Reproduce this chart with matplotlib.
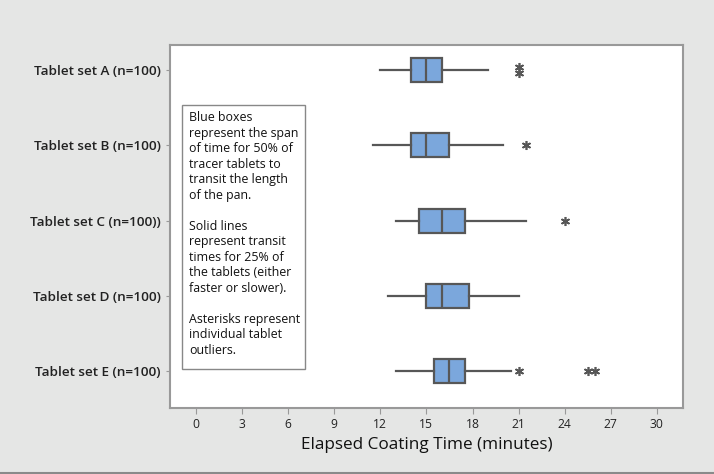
import matplotlib
matplotlib.use("Agg")
import matplotlib.pyplot as plt
from matplotlib.lines import Line2D
from matplotlib.patches import Rectangle

plt.rcParams['font.family'] = ['Open Sans', 'DejaVu Sans']

labels = ["Tablet set A (n=100)", "Tablet set B (n=100)", "Tablet set C (n=100))",
          "Tablet set D (n=100)", "Tablet set E (n=100)"]
whisker_low = [12.0, 11.5, 13.0, 12.5, 13.0]
q1 = [14.0, 14.0, 14.5, 15.0, 15.5]
median = [15.0, 15.0, 16.0, 16.0, 16.5]
q3 = [16.0, 16.5, 17.5, 17.8, 17.5]
whisker_high = [19.0, 20.0, 21.5, 21.0, 20.5]
outliers = [[21.0, 21.0], [21.5], [24.0], [], [21.0, 25.5, 26.0]]
xticks = [0, 3, 6, 9, 12, 15, 18, 21, 24, 27, 30]

note = ("Blue boxes\nrepresent the span\nof time for 50% of\ntracer tablets to\n"
        "transit the length\nof the pan.\n\nSolid lines\nrepresent transit\n"
        "times for 25% of\nthe tablets (either\nfaster or slower).\n\n"
        "Asterisks represent\nindividual tablet\noutliers.")

bg = "#e5e6e5"
edge = "#575757"
fill = "#7ba7dc"

fig = plt.figure(figsize=(7.14, 4.74), dpi=100, facecolor=bg)
ax = fig.add_axes([0.2381, 0.1392, 0.7185, 0.7658])
ax.set_facecolor("white")

positions = list(range(1, len(labels) + 1))
stats = []
for i in range(len(labels)):
    stats.append(dict(whislo=whisker_low[i], q1=q1[i], med=median[i], q3=q3[i],
                      whishi=whisker_high[i], fliers=[], label=labels[i]))
ax.bxp(stats, positions=positions, vert=False, widths=0.32, patch_artist=True,
       showfliers=False, showcaps=False,
       boxprops=dict(facecolor=fill, edgecolor=edge, linewidth=1.6),
       medianprops=dict(color=edge, linewidth=1.6),
       whiskerprops=dict(color=edge, linewidth=1.6))

for i, vals in enumerate(outliers):
    seen = {}
    for v in vals:
        k = seen.get(v, 0)
        seen[v] = k + 1
        ax.plot([v], [positions[i] + (k * 0.07 - (0.035 if vals.count(v) > 1 else 0))],
                linestyle="none", marker=(6, 2, 0), markersize=6.5,
                markeredgewidth=1.2, color=edge)

ax.set_ylim(5.49, 0.668)
ax.set_xlim(-1.69, 31.7)
ax.set_xticks(xticks)
ax.set_yticks(positions)
ax.set_yticklabels(labels, fontsize=9.7, fontweight="semibold", color="#222222")
ax.tick_params(axis="x", labelsize=8.7, colors="#222222", length=4, color="#999999")
ax.tick_params(axis="y", length=3, color="#999999")
for s in ax.spines.values():
    s.set_color("#999999")
    s.set_linewidth(1.5)
ax.set_xlabel("Elapsed Coating Time (minutes)", fontsize=12.3, color="#111111", labelpad=4)

ax.add_patch(Rectangle((0.0234, 0.107), 0.2398, 0.728, transform=ax.transAxes,
                       facecolor="white", edgecolor="#888888", linewidth=1, zorder=3))
ax.text(0.037, 0.818, note, transform=ax.transAxes, fontsize=8.9, va="top", ha="left",
        linespacing=1.25, color="#111111", zorder=4)

fig.add_artist(Line2D([0, 1], [0.002, 0.002], transform=fig.transFigure,
                      color="#8a8a8a", linewidth=1.5))

fig.savefig("out.png", dpi=100, facecolor=bg)
